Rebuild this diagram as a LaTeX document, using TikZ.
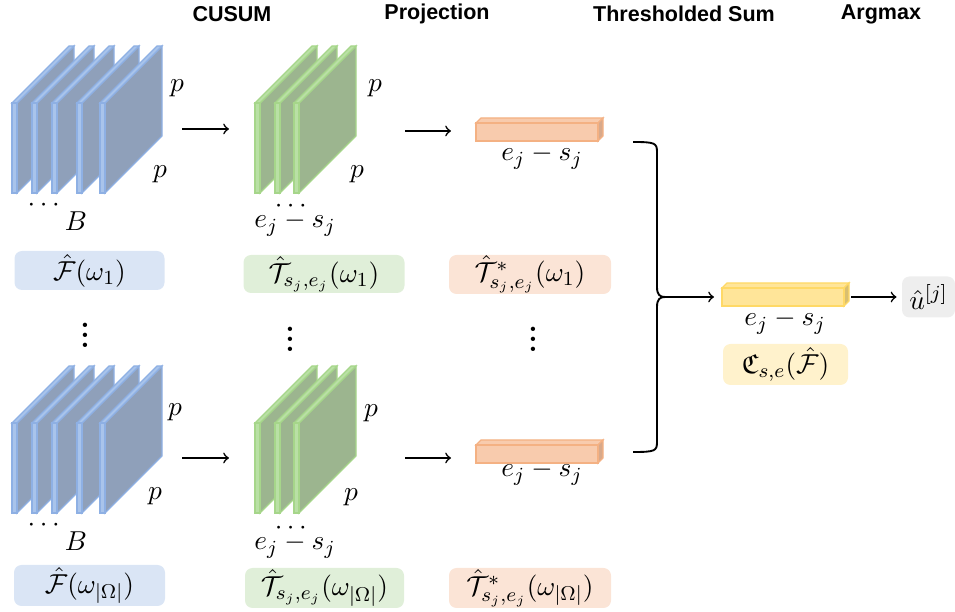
\documentclass[tikz,border=0pt]{standalone}
\usepackage{amsmath,amssymb}
\usepackage{fontspec}
\newfontfamily\hdrfont{Liberation Sans}
\begin{document}
\begin{tikzpicture}[x=0.4pt,y=-0.4pt,
  hdr/.style={font=\hdrfont\bfseries\fontsize{8.6}{10}\selectfont, anchor=center, inner sep=0pt},
  lbl/.style={font=\fontsize{11}{13}\selectfont, inner sep=1pt},
  cbox/.style={rounded corners=3pt, inner sep=0pt, font=\fontsize{11}{13}\selectfont},
  arr/.style={->, line width=0.65pt},
  dotsv/.style={font=\fontsize{12}{14}\selectfont\bfseries, inner sep=0pt}]
\definecolor{bdark}{HTML}{8FA0BA}
\definecolor{blight}{HTML}{A9C4EB}
\definecolor{bedge}{HTML}{8EB0E4}
\definecolor{gdark}{HTML}{9CB58F}
\definecolor{glight}{HTML}{B9E0A5}
\definecolor{gedge}{HTML}{A6D68A}
\definecolor{obar}{HTML}{F8CBAD}
\definecolor{oedge}{HTML}{F4B183}
\definecolor{oside}{HTML}{D8A98B}
\definecolor{ybar}{HTML}{FFE599}
\definecolor{yedge}{HTML}{FFD966}
\definecolor{yside}{HTML}{D9BF70}
\definecolor{bbox}{HTML}{DAE5F5}
\definecolor{gbox}{HTML}{E0EFD9}
\definecolor{obox}{HTML}{FBE4D6}
\definecolor{ybox}{HTML}{FFF2CC}
\definecolor{gray1}{HTML}{EEEEEE}
\newcommand\myslab[4]{% x, ytop, dark, light/edge prefix
  \filldraw[fill=#3, draw=#4edge, line width=0.5pt] (#1+5,#2) -- (#1+62,#2-57) -- (#1+62,#2+33) -- (#1+5,#2+90) -- cycle;
  \filldraw[fill=#4light, draw=#4edge, line width=0.5pt] (#1,#2) -- (#1+57,#2-57) -- (#1+62,#2-57) -- (#1+5,#2) -- cycle;
  \filldraw[fill=#4light, draw=#4edge, line width=0.5pt] (#1,#2) rectangle (#1+5,#2+90);
}
\newcommand\mybar[5]{% x, ytop, fill, edge, side
  \filldraw[fill=#3, draw=#4, line width=0.5pt] (#1,#2) -- (#1+5,#2-5) -- (#1+127,#2-5) -- (#1+122,#2) -- cycle;
  \filldraw[fill=#5, draw=#4, line width=0.5pt] (#1+122,#2) -- (#1+127,#2-5) -- (#1+127,#2+13) -- (#1+122,#2+18) -- cycle;
  \filldraw[fill=#3, draw=#4, line width=0.5pt] (#1,#2) rectangle (#1+122,#2+18);
}
\useasboundingbox (0,0) rectangle (955,612);
% headers
\node[hdr] (h1) at (232,14) {CUSUM};
\node[hdr] (h2) at (437,14) {Projection};
\node[hdr] (h3) at (684,14) {Thresholded Sum};
\node[hdr] (h4) at (881,14) {Argmax};
% ---------- top row
\foreach \xx in {12,32,52,77,100} {\myslab{\xx}{103}{bdark}{b}}
\node[lbl] (p1) at (177,88) {$p$};
\node[lbl] (p2) at (160,174) {$p$};
\node[lbl] (d1) at (46,205) {$\cdots$};
\node[lbl] (B1) at (76,221) {$B$};
\node[cbox, fill=bbox, minimum width=150*0.4pt, minimum height=39*0.4pt] (F1) at (89.5,270.5) {$\hat{\mathcal{F}}(\omega_1)$};
\coordinate (a1s) at (182,129);
\coordinate (a1e) at (229,129);
\draw[arr] (a1s) -- (a1e);
\foreach \xx in {255,275,294} {\myslab{\xx}{103}{gdark}{g}}
\node[lbl] (p3) at (375,88) {$p$};
\node[lbl] (p4) at (357,174) {$p$};
\node[lbl] (e1) at (295,224) {$e_j - s_j$};
\node[lbl] (d2) at (293,206) {$\cdots$};
\node[cbox, fill=gbox, minimum width=161*0.4pt, minimum height=38*0.4pt] (T1) at (324,274) {$\hat{\mathcal{T}}_{s_j,e_j}(\omega_1)$};
\coordinate (a2s) at (405,131);
\coordinate (a2e) at (451,131);
\draw[arr] (a2s) -- (a2e);
\mybar{476}{123}{obar}{oedge}{oside}
\node[lbl] (e2) at (542,157) {$e_j - s_j$};
\node[cbox, fill=obox, minimum width=162*0.4pt, minimum height=39*0.4pt] (S1) at (530,274.5) {$\hat{\mathcal{T}}^{*}_{s_j,e_j}(\omega_1)$};
% vertical dots
\node[dotsv] (v1) at (85,328) {$\boldsymbol{\vdots}$};
\node[dotsv] (v2) at (290,332) {$\boldsymbol{\vdots}$};
\node[dotsv] (v3) at (533,332) {$\boldsymbol{\vdots}$};
% ---------- bottom row
\foreach \xx in {12,32,52,77,100} {\myslab{\xx}{423}{bdark}{b}}
\node[lbl] (p5) at (175,412) {$p$};
\node[lbl] (p6) at (155,496) {$p$};
\node[lbl] (d3) at (46,525) {$\cdots$};
\node[lbl] (B2) at (76,541) {$B$};
\node[cbox, fill=bbox, minimum width=151*0.4pt, minimum height=41*0.4pt] (F2) at (89.5,585.5) {$\hat{\mathcal{F}}(\omega_{|\Omega|})$};
\coordinate (a3s) at (182,458);
\coordinate (a3e) at (229,458);
\draw[arr] (a3s) -- (a3e);
\foreach \xx in {255,275,294} {\myslab{\xx}{423}{gdark}{g}}
\node[lbl] (p7) at (371,413) {$p$};
\node[lbl] (p8) at (351,497) {$p$};
\node[lbl] (e3) at (295,546) {$e_j - s_j$};
\node[lbl] (d4) at (293,528) {$\cdots$};
\node[cbox, fill=gbox, minimum width=159*0.4pt, minimum height=40*0.4pt] (T2) at (324.5,588) {$\hat{\mathcal{T}}_{s_j,e_j}(\omega_{|\Omega|})$};
\coordinate (a4s) at (405,458);
\coordinate (a4e) at (451,458);
\draw[arr] (a4s) -- (a4e);
\mybar{476}{445}{obar}{oedge}{oside}
\node[lbl] (e4) at (542,473) {$e_j - s_j$};
\node[cbox, fill=obox, minimum width=162*0.4pt, minimum height=40*0.4pt] (S2) at (530,588) {$\hat{\mathcal{T}}^{*}_{s_j,e_j}(\omega_{|\Omega|})$};
% ---------- brace
\coordinate (bt) at (633,142);
\coordinate (bb) at (633,452);
\coordinate (bm) at (665,297);
\draw[line width=0.75pt] (bt) .. controls (655,142) and (657,143) .. (657,152)
  -- (657,287) .. controls (657,295) and (660,297) .. (bm)
  .. controls (660,297) and (657,299) .. (657,307)
  -- (657,442) .. controls (657,451) and (655,452) .. (bb);
\coordinate (a5e) at (714,297);
\draw[arr] (bm) -- (a5e);
% yellow bar
\mybar{722}{288}{ybar}{yedge}{yside}
\coordinate (yb) at (851,297);
\node[lbl] (e5) at (785,322) {$e_j - s_j$};
\node[cbox, fill=ybox, minimum width=125*0.4pt, minimum height=41*0.4pt] (C1) at (785.5,364.5) {$\mathfrak{C}_{s,e}(\hat{\mathcal{F}})$};
\node[cbox, fill=gray1, minimum width=53*0.4pt, minimum height=41*0.4pt] (U1) at (928.5,297) {$\hat{u}^{[j]}$};
\draw[arr] (yb) -- ([xshift=-2pt]U1.west);
\end{tikzpicture}
\end{document}
